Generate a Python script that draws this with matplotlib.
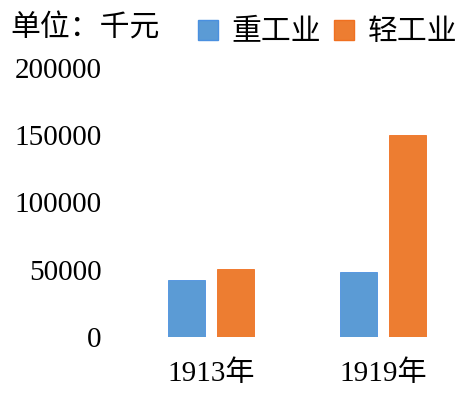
import matplotlib
matplotlib.use("Agg")
from matplotlib import pyplot as plt
from matplotlib.patches import Patch
import numpy as np

# data
categories = ["1913年", "1919年"]
heavy = [42500, 48000]     # 重工业
light = [50500, 150000]    # 轻工业
series_names = ["重工业", "轻工业"]
y_ticks = [0, 50000, 100000, 150000, 200000]

fonts = ["Liberation Serif", "Noto Sans CJK SC", "DejaVu Sans"]
plt.rcParams["font.family"] = fonts

W, H = 473, 408
fig = plt.figure(figsize=(W / 100, H / 100), dpi=100)
ax = fig.add_axes([125 / W, 1 - 337 / H, (469 - 125) / W, (337 - 68) / H])

x = np.arange(len(categories))
bw = 0.218
off = 0.142
ax.bar(x - off, heavy, width=bw, color="#5B9BD5", edgecolor="#4A90E0", linewidth=0.6)
ax.bar(x + off, light, width=bw, color="#ED7D31", edgecolor="#F07020", linewidth=0.6)

ax.set_xlim(-0.5, 1.5)
ax.set_ylim(0, 200000)
ax.set_yticks(y_ticks)
ax.set_yticklabels([str(v) for v in y_ticks])
ax.set_xticks(x)
ax.set_xticklabels(categories)
ax.tick_params(axis="y", length=0, pad=17, labelsize=21)
ax.tick_params(axis="x", length=0, pad=17, labelsize=21)
for s in ax.spines.values():
    s.set_visible(False)

fig.text(10 / W, 1 - 28 / H, "单位：千元", fontsize=21.5, va="center", ha="left",
         family=["Noto Sans CJK SC"], fontweight="light")

handles = [Patch(facecolor="#5B9BD5", edgecolor="#4A90E0"),
           Patch(facecolor="#ED7D31", edgecolor="#F07020")]
fig.legend(handles, series_names, loc="center right", bbox_to_anchor=(457 / W, 1 - 32 / H),
           ncol=2, frameon=False, handlelength=0.67, handleheight=0.67, handletextpad=0.44,
           columnspacing=0.44, borderaxespad=0, borderpad=0,
           prop={"family": ["Noto Sans CJK SC"], "size": 21.5, "weight": "light"})

fig.savefig("out.png", dpi=100, facecolor="white")
